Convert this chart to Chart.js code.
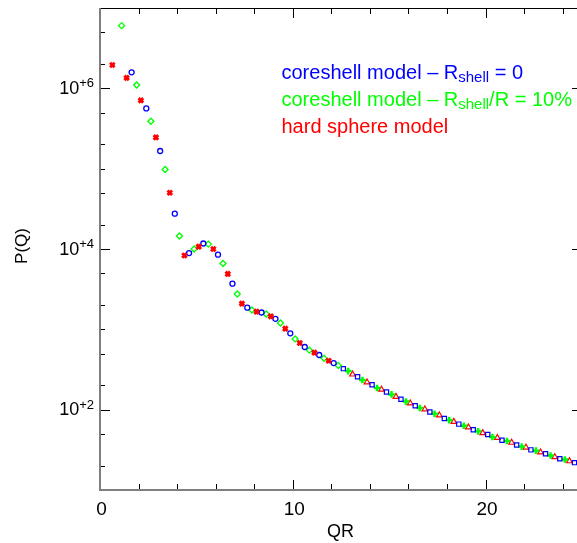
<!DOCTYPE html>
<html>
<head>
<meta charset="utf-8">
<script src="https://cdn.jsdelivr.net/npm/chart.js@4"></script>
<style>
  html, body { margin: 0; padding: 0; background: #fff; overflow: hidden; }
  #wrap { width: 577px; height: 543px; overflow: hidden; }
  canvas { display: block; }
</style>
</head>
<body>
<div id="wrap"><canvas id="chart" width="592" height="543"></canvas></div>
<script>
// values
const redCrossQR = [0.64, 1.38, 2.12, 2.90, 3.62, 4.38, 5.12, 5.88, 6.63, 7.36, 8.12, 8.86, 9.61, 10.36, 11.12, 11.86];
const redCrossP = [1.95e6, 1.35e6, 7.08e5, 2.45e5, 5.01e4, 8320, 10700, 10000, 4900, 2090, 1660, 1450, 1020, 676, 513, 407];

const blueCircleQR = [1.64, 2.40, 3.12, 3.88, 4.62, 5.36, 6.12, 6.87, 7.64, 8.38, 9.10, 9.87, 10.62, 11.37, 12.12];
const blueCircleP = [1.58e6, 5.62e5, 1.66e5, 2.75e4, 8900, 11700, 8500, 3700, 1860, 1620, 1350, 891, 603, 479, 380];

const greenDiamondQR = [1.12, 1.90, 2.64, 3.38, 4.12, 4.88, 5.62, 6.38, 7.12, 7.88, 8.62, 9.36, 10.12, 10.86, 11.62, 12.36];
const greenDiamondP = [6.03e6, 1.10e6, 3.89e5, 9.77e4, 14500, 10000, 11500, 6600, 2750, 1740, 1550, 1200, 759, 550, 437, 355];

const blueSquareQR = [12.62, 13.36, 14.11, 14.86, 15.61, 16.35, 17.11, 17.86, 18.61, 19.36, 20.11, 20.85, 21.61, 22.35, 23.11, 23.85, 24.61];
const blueSquareP = [324, 257, 204, 166, 135, 112, 93.3, 77.6, 66.1, 56.2, 49.0, 41.7, 36.3, 31.6, 28.2, 24.5, 21.9];

const greenPlusQR = [12.87, 13.61, 14.37, 15.12, 15.87, 16.59, 17.35, 18.11, 18.87, 19.61, 20.35, 21.11, 21.87, 22.61, 23.37, 24.11];
const greenPlusP = [302, 234, 186, 155, 126, 105, 89.1, 74.1, 63.1, 53.7, 45.7, 40.7, 34.7, 30.9, 26.9, 24.0];

const redTriangleQR = [13.10, 13.85, 14.60, 15.35, 16.09, 16.85, 17.60, 18.35, 19.11, 19.85, 20.61, 21.35, 22.09, 22.85, 23.59, 24.35];
const redTriangleP = [275, 219, 178, 145, 120, 101, 85.1, 70.8, 60.3, 51.3, 44.7, 38.9, 33.9, 29.5, 25.7, 22.9];

const xMajorTicks = [0, 10, 20];
const xMinorTicks = [2, 4, 6, 8, 12, 14, 16, 18, 22, 24];
const yMajorTicks = [1e2, 1e4, 1e6];
const yTickExp = ["+2", "+4", "+6"];
const yMinorTicks = [20, 50, 200, 500, 1e3, 2e3, 5e3, 2e4, 5e4, 1e5, 2e5, 5e5, 2e6, 5e6];

const legendLines = [
  { color: "#0000ff", pre: "coreshell model \u2013 R", sub: "shell", post: " = 0" },
  { color: "#00ff00", pre: "coreshell model \u2013 R", sub: "shell", post: "/R = 10%" },
  { color: "#ff0000", pre: "hard sphere model", sub: "", post: "" },
];

const FONT = "'Liberation Sans', Arial, sans-serif";

function pts(xs, ys) {
  return xs.map((x, i) => ({ x: x, y: ys[i] }));
}

const frame = {
  id: "frame",
  beforeDatasetsDraw(chart) {
    const { ctx, chartArea: a, scales } = chart;
    const x = scales.x, y = scales.y;
    ctx.save();
    ctx.strokeStyle = "#000";
    ctx.lineWidth = 1;
    ctx.beginPath();
    xMajorTicks.concat(xMinorTicks).forEach((v) => {
      const len = xMajorTicks.includes(v) ? 10 : 6;
      const px = Math.round(x.getPixelForValue(v)) + 0.5;
      ctx.moveTo(px, a.bottom); ctx.lineTo(px, a.bottom - len);
      ctx.moveTo(px, a.top); ctx.lineTo(px, a.top + len);
    });
    yMajorTicks.concat(yMinorTicks).forEach((v) => {
      const len = yMajorTicks.includes(v) ? 10 : 5;
      const py = Math.round(y.getPixelForValue(v)) + 0.5;
      ctx.moveTo(a.left, py); ctx.lineTo(a.left + len, py);
      ctx.moveTo(a.right, py); ctx.lineTo(a.right - len, py);
    });
    // top and right border
    ctx.moveTo(a.left, a.top + 0.5); ctx.lineTo(a.right, a.top + 0.5);
    ctx.moveTo(a.right + 0.5, a.top); ctx.lineTo(a.right + 0.5, a.bottom);
    ctx.stroke();
    // left and bottom axes, grey
    ctx.fillStyle = "#7f7f7f";
    ctx.fillRect(a.left - 1, a.top, 2, a.bottom - a.top + 1);
    ctx.fillRect(a.left - 1, a.bottom - 1, a.right - a.left + 1, 2);
    ctx.restore();
  },
  afterDraw(chart) {
    const { ctx, chartArea: a, scales } = chart;
    const x = scales.x, y = scales.y;
    ctx.save();
    ctx.fillStyle = "#000";
    // x tick labels
    ctx.font = "19px " + FONT;
    ctx.textAlign = "center";
    ctx.textBaseline = "alphabetic";
    xMajorTicks.forEach((v) => {
      ctx.fillText(String(v), x.getPixelForValue(v) + 1.5, 515);
    });
    // y tick labels 10^+n
    yMajorTicks.forEach((v, i) => {
      const py = y.getPixelForValue(v);
      ctx.textAlign = "right";
      ctx.font = "13px " + FONT;
      const supW = ctx.measureText(yTickExp[i]).width;
      ctx.fillText(yTickExp[i], 94, py - 1);
      ctx.font = "18px " + FONT;
      ctx.fillText("10", 94 - supW, py + 5.5);
    });
    // axis titles
    ctx.textAlign = "center";
    ctx.font = "18px " + FONT;
    ctx.fillText("QR", (a.left + a.right) / 2 - 0.5, 536.5);
    ctx.save();
    ctx.translate(26.5, 246);
    ctx.rotate(-Math.PI / 2);
    ctx.font = "17px " + FONT;
    ctx.fillText("P(Q)", 0, 0);
    ctx.restore();
    // legend text
    ctx.textAlign = "left";
    legendLines.forEach((l, i) => {
      const base = 78.5 + i * 27;
      let cx = 281.5;
      ctx.fillStyle = l.color;
      ctx.font = "20px " + FONT;
      ctx.fillText(l.pre, cx, base);
      cx += ctx.measureText(l.pre).width;
      if (l.sub) {
        ctx.font = "15px " + FONT;
        ctx.fillText(l.sub, cx, base + 3);
        cx += ctx.measureText(l.sub).width;
      }
      ctx.font = "20px " + FONT;
      ctx.fillText(l.post, cx, base);
    });
    ctx.restore();
  },
};

function ds(label, xs, ys, color, style, radius, width, filled) {
  return {
    label: label,
    data: pts(xs, ys),
    pointStyle: style,
    pointRadius: radius,
    borderColor: color,
    backgroundColor: filled ? color : "rgba(0,0,0,0)",
    borderWidth: width,
    showLine: false,
  };
}

new Chart(document.getElementById("chart"), {
  type: "scatter",
  data: {
    datasets: [
      ds("hard sphere", redCrossQR, redCrossP, "#ff0000", "crossRot", 3.2, 2.9, true),
      ds("coreshell 0", blueCircleQR, blueCircleP, "#0000ff", "circle", 2.5, 1.3, false),
      ds("coreshell 10%", greenDiamondQR, greenDiamondP, "#00ff00", "rectRot", 3, 1.3, false),
      ds("coreshell 0 (tail)", blueSquareQR, blueSquareP, "#0000ff", "rect", 3, 1.2, false),
      ds("coreshell 10% (tail)", greenPlusQR, greenPlusP, "#00ff00", "cross", 3.3, 2.5, true),
      ds("hard sphere (tail)", redTriangleQR, redTriangleP, "#ff0000", "triangle", 3.3, 1.2, false),
    ],
  },
  options: {
    responsive: false,
    animation: false,
    devicePixelRatio: 1,
    layout: { padding: { left: 100, top: 8, right: 10, bottom: 53 } },
    plugins: { legend: { display: false }, tooltip: { enabled: false } },
    scales: {
      x: { type: "linear", min: 0, max: 25, display: false },
      y: { type: "logarithmic", min: 10, max: 1e7, display: false },
    },
  },
  plugins: [frame],
});
</script>
</body>
</html>
